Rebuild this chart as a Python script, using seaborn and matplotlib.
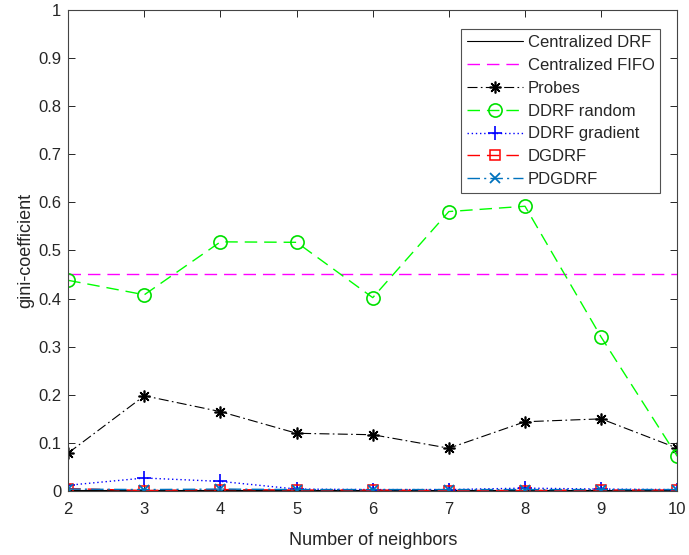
import matplotlib
matplotlib.use("Agg")
import matplotlib.pyplot as plt
import seaborn as sns
import numpy as np

neighbors = [2, 3, 4, 5, 6, 7, 8, 9, 10]
centralized_drf = [0.002] * 9
centralized_fifo = [0.452] * 9
probes = [0.079, 0.198, 0.165, 0.120, 0.117, 0.089, 0.144, 0.150, 0.089]
ddrf_random = [0.438, 0.408, 0.518, 0.517, 0.402, 0.581, 0.592, 0.320, 0.072]
ddrf_gradient = [0.012, 0.027, 0.020, 0.004, 0.003, 0.003, 0.006, 0.004, 0.003]
dgdrf = [0.005, 0.001, 0.003, 0.002, 0.002, 0.001, 0.001, 0.002, 0.002]
pdgdrf = [0.004, 0.003, 0.004, 0.003, 0.003, 0.003, 0.003, 0.003, 0.003]
yticks = [0, 0.1, 0.2, 0.3, 0.4, 0.5, 0.6, 0.7, 0.8, 0.9, 1]
ytick_labels = ["0", "0.1", "0.2", "0.3", "0.4", "0.5", "0.6", "0.7", "0.8", "0.9", "1"]

sns.set_style("white")
plt.rcParams['font.family'] = ['Liberation Sans', 'DejaVu Sans']

fig = plt.figure(figsize=(6.89, 5.55), dpi=100)
ax = fig.add_axes([0.099, 0.1153, 0.884, 0.8667])

dashed = (0, (9, 5))
dashdot = (0, (9, 3, 1.5, 3))
series = [
    ("Centralized DRF", centralized_drf, dict(color="black", linestyle="-", marker=None, lw=0.8)),
    ("Centralized FIFO", centralized_fifo, dict(color="#FF00FF", linestyle=dashed, marker=None, lw=1.0)),
    ("Probes", probes, dict(color="black", linestyle=dashdot, marker=(8, 2, 0), lw=0.8, ms=8.5,
                            markeredgecolor="black", markeredgewidth=1.2)),
    ("DDRF random", ddrf_random, dict(color="#00FF00", linestyle=dashed, marker="o", lw=1.0, ms=9.5,
                                      markerfacecolor="none", markeredgecolor="#00E000", markeredgewidth=1.2)),
    ("DDRF gradient", ddrf_gradient, dict(color="#0000FF", linestyle=(0, (1, 2)), marker="+", lw=1.0, ms=10,
                                          markeredgecolor="#0000FF", markeredgewidth=1.2)),
    ("DGDRF", dgdrf, dict(color="#FF0000", linestyle=dashed, marker="s", lw=1.0, ms=7,
                          markerfacecolor="none", markeredgecolor="#FF0000", markeredgewidth=1.1)),
    ("PDGDRF", pdgdrf, dict(color="#0072BD", linestyle=dashdot, marker="x", lw=1.0, ms=7,
                            markeredgecolor="#0072BD", markeredgewidth=1.3)),
]

for name, vals, style in series:
    sns.lineplot(x=neighbors, y=vals, ax=ax, label=name, **style)

ax.set_xlim(2, 10)
ax.set_ylim(0, 1)
ax.set_xticks(neighbors)
ax.set_yticks(yticks)
ax.set_yticklabels(ytick_labels)
ax.tick_params(direction="in", length=5, width=0.7, colors="#262626", labelsize=12,
               top=True, right=True, bottom=True, left=True, pad=5)
ax.tick_params(axis="x", pad=8)
for sp in ax.spines.values():
    sp.set_color("#444444")
    sp.set_linewidth(0.8)
ax.set_xlabel("Number of neighbors", fontsize=13, color="#262626", labelpad=11)
ax.set_ylabel("gini-coefficient", fontsize=13, color="#262626", labelpad=3)

leg = ax.legend(loc="upper right", bbox_to_anchor=(0.972, 0.960), fontsize=12, frameon=True,
                fancybox=False, edgecolor="#262626", handlelength=3.35, borderpad=0.35,
                labelspacing=0.47, handletextpad=0.3, borderaxespad=0.0)
leg.get_frame().set_linewidth(0.8)

fig.savefig("out.png", dpi=100)
